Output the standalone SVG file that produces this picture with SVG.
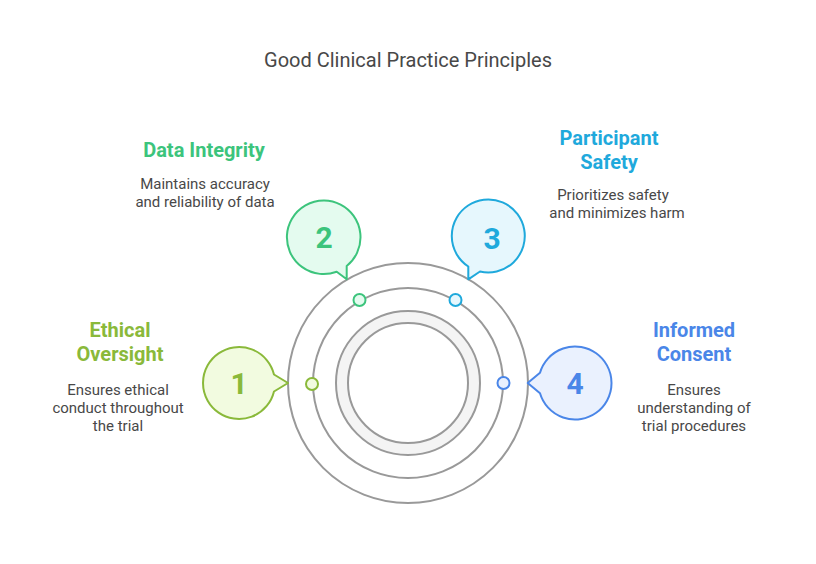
<svg xmlns="http://www.w3.org/2000/svg" width="816" height="564" viewBox="0 0 816 564">
<style>
text{font-family:Roboto,"Liberation Sans",sans-serif;}
.title{font-size:20px;fill:#484848;text-anchor:middle;}
.head{font-size:20px;font-weight:bold;text-anchor:middle;}
.desc{font-size:15px;fill:#484848;text-anchor:middle;}
.num{font-size:30px;font-weight:bold;text-anchor:middle;}
.ring{fill:none;stroke:#999;stroke-width:2;}
.bub{stroke-width:2;stroke-linejoin:round;}
</style>
<rect width="816" height="564" fill="#fff"/>
<text class="title" x="408" y="67">Good Clinical Practice Principles</text>
<g id="hub">
<circle cx="408" cy="383" r="66" fill="none" stroke="#f4f4f4" stroke-width="12"/>
<circle class="ring" cx="408" cy="383" r="120"/>
<circle class="ring" cx="408" cy="383" r="95"/>
<circle class="ring" cx="408" cy="383" r="72"/>
<circle class="ring" cx="408" cy="383" r="60"/>
</g>
<g id="connectors">
<circle cx="359.5" cy="300" r="6" fill="#e4fbef" stroke="#3cc47c" stroke-width="2"/>
<circle cx="455.5" cy="300" r="6" fill="#e6f7fd" stroke="#1fa9dc" stroke-width="2"/>
<circle cx="312" cy="384" r="6" fill="#f2fbe0" stroke="#8ab93a" stroke-width="2"/>
<circle cx="503.5" cy="383" r="6" fill="#eaf1fe" stroke="#4a86e8" stroke-width="2"/>
</g>
<g id="node1">
<path class="bub" d="M288,383 L274,374.5 A36,36 0 1 0 274,391.5 Z" fill="#f2fbe0" stroke="#8ab93a"/>
<text class="num" x="239" y="394" fill="#8ab93a">1</text>
<text class="head" x="120" y="337" fill="#8ab93a">Ethical</text>
<text class="head" x="120" y="361" fill="#8ab93a">Oversight</text>
<text class="desc" x="118" y="395">Ensures ethical</text>
<text class="desc" x="118" y="413">conduct throughout</text>
<text class="desc" x="118" y="431">the trial</text>
</g>
<g id="node2">
<path class="bub" d="M346.7,279.3 L336.7,271.7 A36.8,36.8 0 1 1 346.7,266 Z" fill="#e4fbef" stroke="#3cc47c"/>
<text class="num" x="324" y="248" fill="#3cc47c">2</text>
<text class="head" x="204" y="157" fill="#3cc47c">Data Integrity</text>
<text class="desc" x="205" y="189">Maintains accuracy</text>
<text class="desc" x="205" y="207">and reliability of data</text>
</g>
<g id="node3">
<path class="bub" d="M468.3,279.3 L468.3,266.5 A36.5,36.5 0 1 1 480,271.5 Z" fill="#e6f7fd" stroke="#1fa9dc"/>
<text class="num" x="492" y="249" fill="#1fa9dc">3</text>
<text class="head" x="609" y="145" fill="#1fa9dc">Participant</text>
<text class="head" x="609" y="169" fill="#1fa9dc">Safety</text>
<text class="desc" x="613" y="200">Prioritizes safety</text>
<text class="desc" x="617" y="218">and minimizes harm</text>
</g>
<g id="node4">
<path class="bub" d="M527.7,383 L540,393.3 A36.5,36.5 0 1 0 540,372.7 Z" fill="#eaf1fe" stroke="#4a86e8"/>
<text class="num" x="575" y="394" fill="#4a86e8">4</text>
<text class="head" x="694" y="337" fill="#4a86e8">Informed</text>
<text class="head" x="694" y="361" fill="#4a86e8">Consent</text>
<text class="desc" x="694" y="395">Ensures</text>
<text class="desc" x="694" y="413">understanding of</text>
<text class="desc" x="694" y="431">trial procedures</text>
</g>
</svg>
